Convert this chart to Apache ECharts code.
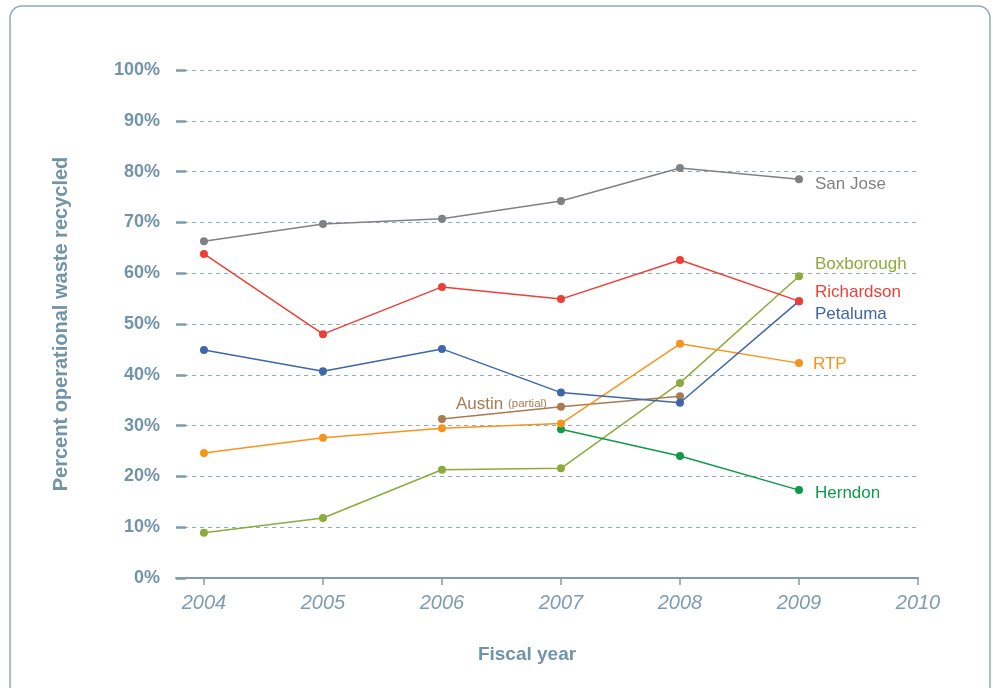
<!DOCTYPE html>
<html>
<head>
<meta charset="utf-8">
<script src="https://cdn.jsdelivr.net/npm/echarts@6/dist/echarts.min.js"></script>
<style>
html,body{margin:0;padding:0;background:#fff;}
#c{width:993px;height:688px;}
</style>
</head>
<body>
<div id="c"></div>
<script>
var years = [2004, 2005, 2006, 2007, 2008, 2009];
var xTicks = [2004, 2005, 2006, 2007, 2008, 2009, 2010];
var yTicks = [0, 10, 20, 30, 40, 50, 60, 70, 80, 90, 100];

var sanJose    = [66.3, 69.7, 70.7, 74.2, 80.7, 78.5];
var richardson = [63.8, 48.0, 57.3, 54.9, 62.6, 54.5];
var petaluma   = [44.9, 40.7, 45.1, 36.5, 34.5, 54.5];
var rtp        = [24.6, 27.6, 29.5, 30.4, 46.1, 42.3];
var austin     = [null, null, 31.3, 33.7, 35.8, null];
var herndon    = [null, null, null, 29.3, 24.0, 17.3];
var boxborough = [8.9, 11.8, 21.3, 21.6, 38.4, 59.4];

var names = ['San Jose', 'Richardson', 'Petaluma', 'RTP', 'Austin', 'Herndon', 'Boxborough'];
var colors = ['#808184', '#ee3f37', '#3d66ab', '#f7941e', '#a87c50', '#0e9a48', '#8bab3b'];
var values = [sanJose, richardson, petaluma, rtp, austin, herndon, boxborough];
// label offsets [dx, dy] for end labels
var labelOffsets = [[0, 5], [0, -9], [0, 13], [-2, 1], null, [0, 3], [0, -12]];

var axisColor = '#7e9cb0';
var textColor = '#7194a9';
var ff = 'Liberation Sans, Arial, sans-serif';

var series = names.map(function (n, i) {
  var vals = values[i];
  var data = [];
  var lastIdx = -1, firstIdx = -1;
  vals.forEach(function (v, j) { if (v != null) { lastIdx = j; if (firstIdx < 0) firstIdx = j; } });
  vals.forEach(function (v, j) {
    if (v == null) return;
    var item = { value: [years[j], v] };
    if (n === 'Austin' && j === firstIdx) {
      item.label = {
        show: true, position: 'right', distance: 5, offset: [5, -15],
        formatter: 'Austin {s|(partial)}',
        color: colors[i], fontSize: 17, fontFamily: ff,
        rich: { s: { fontSize: 11.5, color: colors[i], fontFamily: ff } }
      };
    } else if (n !== 'Austin' && j === lastIdx) {
      item.label = {
        show: true, position: 'right', distance: 12, offset: labelOffsets[i],
        formatter: n, color: colors[i], fontSize: 17, fontFamily: ff
      };
    }
    data.push(item);
  });
  return {
    name: n, type: 'line', data: data,
    symbol: 'circle', symbolSize: 8,
    itemStyle: { color: colors[i] },
    lineStyle: { color: colors[i], width: 1.5 },
    label: { show: false },
    z: 10 - i
  };
});

var chart = echarts.init(document.getElementById('c'), null, { renderer: 'canvas' });
chart.setOption({
  animation: false,
  backgroundColor: '#fff',
  graphic: [{
    type: 'rect', z: -1,
    shape: { x: 10, y: 6, width: 980, height: 720, r: 12 },
    style: { fill: 'none', stroke: '#8ea8b8', lineWidth: 1.5 }
  }],
  grid: { left: 176, right: 75, top: 70, bottom: 110, containLabel: false },
  xAxis: {
    type: 'value', min: 2003.765, max: 2010,
    name: 'Fiscal year', nameLocation: 'middle', nameGap: 67,
    nameTextStyle: { color: textColor, fontSize: 19, fontWeight: 'bold', fontFamily: ff, padding: [0, 40, 0, 0] },
    axisLine: { show: true, lineStyle: { color: axisColor, width: 2 } },
    axisTick: { show: true, customValues: xTicks, length: 7, lineStyle: { color: axisColor, width: 1.5 } },
    axisLabel: {
      customValues: xTicks, margin: 15, color: '#7d9cb1', fontSize: 20, fontStyle: 'italic',
      fontFamily: ff,
      formatter: function (v) { return String(v); }
    },
    splitLine: { show: false }
  },
  yAxis: {
    type: 'value', min: 0, max: 100, interval: 10,
    name: 'Percent operational waste recycled', nameLocation: 'middle', nameGap: 105, nameRotate: 90,
    nameTextStyle: { color: textColor, fontSize: 20, fontWeight: 'bold', fontFamily: ff, padding: [0, 0, 0, 0] },
    axisLine: { show: false },
    axisTick: { show: true, inside: true, length: 10, lineStyle: { color: axisColor, width: 2.5 } },
    axisLabel: {
      margin: 16, color: textColor, fontSize: 18, fontWeight: 'bold',
      fontFamily: ff,
      formatter: function (v) { return v + '%'; }
    },
    splitLine: { show: true, lineStyle: { color: '#91abbd', type: [4, 4], width: 1 } }
  },
  series: series
});
</script>
</body>
</html>
